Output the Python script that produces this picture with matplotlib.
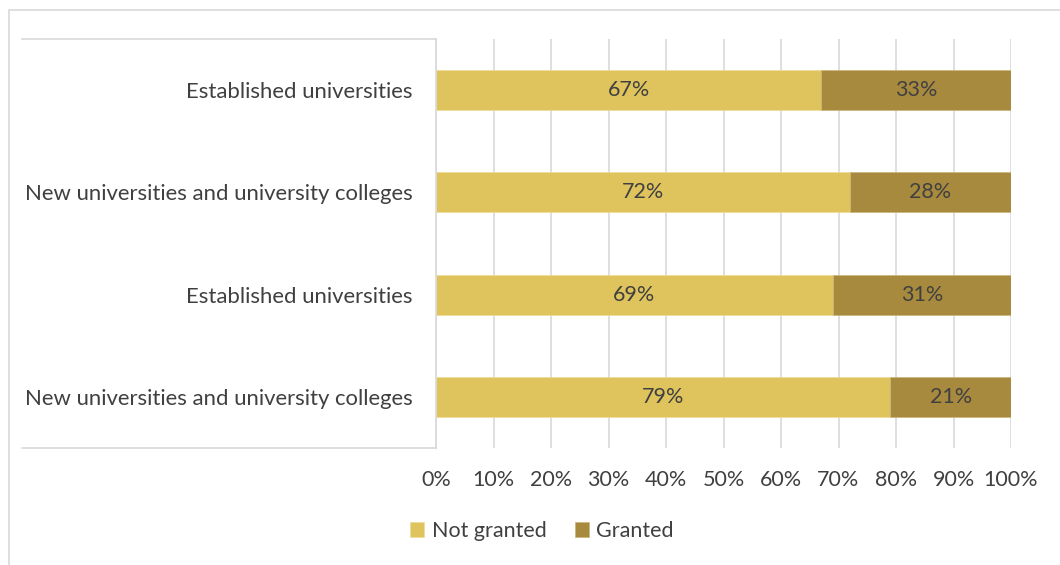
import matplotlib.pyplot as plt
import numpy as np
from matplotlib.patches import Rectangle
from matplotlib.lines import Line2D

categories = ['Established universities',
              'New universities and university colleges',
              'Established universities',
              'New universities and university colleges']
not_granted = [67, 72, 69, 79]
granted = [33, 28, 31, 21]
x_ticks = [0, 10, 20, 30, 40, 50, 60, 70, 80, 90, 100]

c_not = '#DFC45D'
c_yes = '#A88A3F'
txt = '#404040'
grid_c = '#D9D9D9'
fs = 15.5

plt.rcParams['font.family'] = ['Lato', 'DejaVu Sans']

W, H = 1060, 565
fig = plt.figure(figsize=(W / 100, H / 100), dpi=100)

# outer chart frame
fig.add_artist(Rectangle((9 / W, -0.1), 1.2, (H - 10) / H + 0.1, transform=fig.transFigure,
                         fill=False, edgecolor=grid_c, linewidth=1.2))

ax = fig.add_axes([436 / W, (H - 448) / H, 575 / W, 409 / H])
y = np.arange(len(categories))
ax.barh(y, not_granted, height=0.39, color=c_not, label='Not granted', zorder=2,
        edgecolor='#EFDC97', linewidth=0.5)
ax.barh(y, granted, left=not_granted, height=0.39, color=c_yes, label='Granted', zorder=2,
        edgecolor='#C9B57A', linewidth=0.5)

for i in range(len(categories)):
    ax.text(not_granted[i] / 2, y[i], f'{not_granted[i]}%', ha='center', va='center',
            fontsize=fs, color=txt, zorder=3)
    ax.text(not_granted[i] + granted[i] / 2, y[i], f'{granted[i]}%', ha='center', va='center',
            fontsize=fs, color=txt, zorder=3)

ax.set_xlim(0, 100)
ax.set_ylim(3.5, -0.5)
ax.set_xticks(x_ticks)
ax.set_xticklabels([f'{t}%' for t in x_ticks])
ax.set_yticks(y)
ax.set_yticklabels(categories, fontsize=15.9)
ax.tick_params(axis='x', length=0, labelsize=fs, labelcolor=txt, pad=16)
ax.tick_params(axis='y', length=0, labelcolor=txt, pad=17)
ax.grid(axis='x', color=grid_c, linewidth=1.2, zorder=0)
for s in ['top', 'right', 'bottom']:
    ax.spines[s].set_visible(False)
ax.spines['left'].set_color(grid_c)
ax.spines['left'].set_linewidth(1.2)

# category bracket lines on the left
for yy in (39, 448):
    fig.add_artist(Line2D([22 / W, 436 / W], [(H - yy) / H] * 2, transform=fig.transFigure,
                          color=grid_c, linewidth=1.2))

fig.legend(loc='center', bbox_to_anchor=(542 / W, (H - 531) / H), ncol=2, frameon=False,
           fontsize=fs, labelcolor=txt, handlelength=0.65, handleheight=0.65,
           handletextpad=0.35, columnspacing=1.3)

fig.savefig('out.png', dpi=100)
